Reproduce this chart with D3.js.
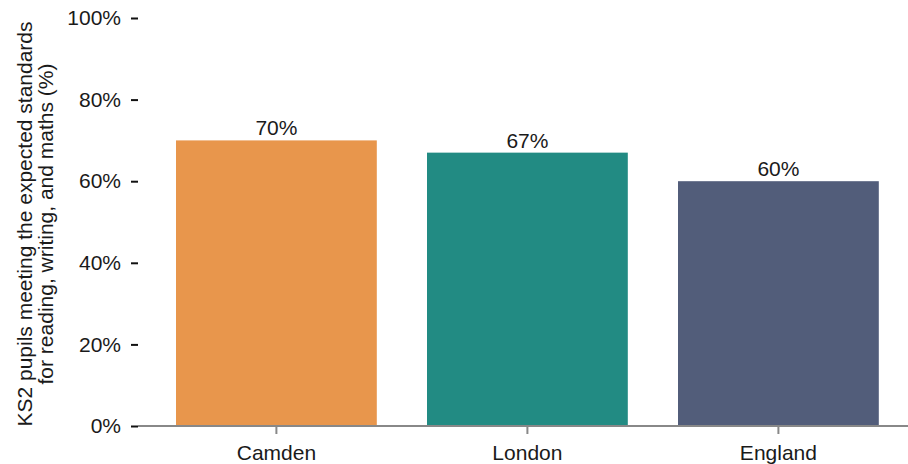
<html>
  <head>
    <style>
      body {
        margin:0;
        font-family:"Liberation Sans", Arial, Helvetica, sans-serif;
      }
      .chart text {
        fill:#1a1a1a;
      }
    </style>
  </head>
  <body>
    <div class="graph"></div>
    <script src="https://cdn.jsdelivr.net/npm/d3@7"></script>
    <script>
      var areas = ["Camden", "London", "England"];
      var values = [70, 67, 60];
      var colors = ["#E8964C", "#228B83", "#525D7A"];
      var yTicks = [0, 20, 40, 60, 80, 100];

      var width = 908;
      var height = 464;
      var fontSize = "21px";

      var svg = d3.select(".graph").append("svg")
        .attr("class", "chart")
        .attr("width", width)
        .attr("height", height);

      var x = d3.scaleBand()
        .domain(areas)
        .range([125.8, 929])
        .paddingInner(0.2)
        .paddingOuter(0.2);

      var y = d3.scaleLinear()
        .domain([0, 100])
        .range([426, 18]);

      // bars
      svg.append("g").selectAll("rect")
        .data(areas)
        .enter().append("rect")
        .attr("x", function (d) { return x(d); })
        .attr("width", x.bandwidth())
        .attr("y", function (d, i) { return y(values[i]); })
        .attr("height", function (d, i) { return y(0) - y(values[i]); })
        .attr("fill", function (d, i) { return colors[i]; });

      // value labels
      svg.append("g").selectAll("text")
        .data(areas)
        .enter().append("text")
        .attr("x", function (d) { return x(d) + x.bandwidth() / 2; })
        .attr("y", function (d, i) { return y(values[i]) - 5; })
        .attr("text-anchor", "middle")
        .style("font-size", fontSize)
        .text(function (d, i) { return values[i] + "%"; });

      // x axis
      var xAxis = svg.append("g")
        .attr("transform", "translate(0," + y(0) + ")")
        .call(d3.axisBottom(x).tickSize(8).tickSizeOuter(0).tickPadding(11));
      xAxis.select(".domain").remove();
      xAxis.selectAll(".tick line").attr("stroke", "#888").attr("stroke-width", 2);
      xAxis.selectAll(".tick text")
        .style("font-size", fontSize)
        .style("font-family", "'Liberation Sans', Arial, sans-serif")
        .attr("fill", "#1a1a1a");
      svg.append("line")
        .attr("x1", 138).attr("x2", width)
        .attr("y1", y(0)).attr("y2", y(0))
        .attr("stroke", "#888")
        .attr("stroke-width", 2);

      // y axis
      var yAxis = svg.append("g")
        .attr("transform", "translate(138,0)")
        .call(d3.axisLeft(y)
          .tickValues(yTicks)
          .tickFormat(function (d) { return d + "%"; })
          .tickSize(7)
          .tickPadding(10));
      yAxis.select(".domain").remove();
      yAxis.selectAll(".tick line").attr("stroke", "#111").attr("stroke-width", 2);
      yAxis.selectAll(".tick text")
        .style("font-size", fontSize)
        .style("font-family", "'Liberation Sans', Arial, sans-serif")
        .attr("fill", "#1a1a1a");

      // y title
      var title = svg.append("text")
        .attr("transform", "translate(32,224) rotate(-90)")
        .attr("text-anchor", "middle")
        .style("font-size", fontSize);
      title.append("tspan").attr("x", 0).attr("dy", 0)
        .text("KS2 pupils meeting the expected standards");
      title.append("tspan").attr("x", 0).attr("dy", 21)
        .text("for reading, writing, and maths (%)");
    </script>
  </body>
</html>
